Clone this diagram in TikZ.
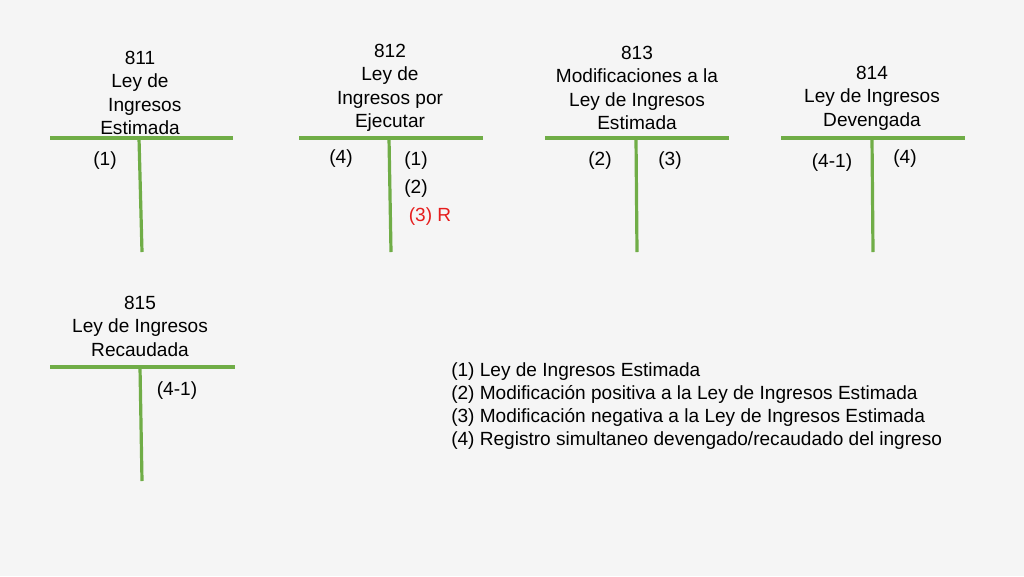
\documentclass[tikz,border=0pt]{standalone}
\usepackage{fontspec}
\setmainfont{Liberation Sans}
\definecolor{bg}{RGB}{245,245,245}
\definecolor{tgreen}{RGB}{112,173,71}
\definecolor{tred}{RGB}{230,30,30}
\begin{document}
\begin{tikzpicture}[x=0.75pt,y=-0.75pt,
  txt/.style={inner sep=0pt,align=center,font=\fontsize{14.3}{17.6}\selectfont},
  tline/.style={draw=tgreen,line width=2.4pt},
  red/.style={text=tred}]
\fill[bg] (0,0) rectangle (1024,576);
\useasboundingbox (0,0) rectangle (1024,576);
% 811
\node[txt] (t811) at (140,93) {811\\Ley de\\\hspace*{0.5em}Ingresos\\Estimada};
\coordinate (h811a) at (50,138); \coordinate (h811b) at (233,138);
\coordinate (v811a) at (139,138); \coordinate (v811b) at (142,252);
\draw[tline] (h811a) -- (h811b);
\draw[tline] (v811a) -- (v811b);
\node[txt] (a811) at (105,161) {(1)};
% 812
\node[txt] (t812) at (390,88) {812\\Ley de\\Ingresos por\\Ejecutar};
\coordinate (h812a) at (299,138); \coordinate (h812b) at (483,138);
\coordinate (v812a) at (389,138); \coordinate (v812b) at (391,252);
\draw[tline] (h812a) -- (h812b);
\draw[tline] (v812a) -- (v812b);
\node[txt] (a812) at (341,159) {(4)};
\node[txt] (b812) at (416,161) {(1)};
\node[txt] (c812) at (416,189) {(2)};
\node[txt,red] (d812) at (430,217) {(3) R};
% 813
\node[txt] (t813) at (637,88) {813\\Modificaciones a la\\Ley de Ingresos\\Estimada};
\coordinate (h813a) at (545,138); \coordinate (h813b) at (729,138);
\coordinate (v813a) at (636,138); \coordinate (v813b) at (637,252);
\draw[tline] (h813a) -- (h813b);
\draw[tline] (v813a) -- (v813b);
\node[txt] (a813) at (600,161) {(2)};
\node[txt] (b813) at (670,161) {(3)};
% 814
\node[txt] (t814) at (872,98) {814\\Ley de Ingresos\\Devengada};
\coordinate (h814a) at (781,138); \coordinate (h814b) at (965,138);
\coordinate (v814a) at (872,138); \coordinate (v814b) at (873,252);
\draw[tline] (h814a) -- (h814b);
\draw[tline] (v814a) -- (v814b);
\node[txt] (a814) at (832,163) {(4-1)};
\node[txt] (b814) at (905,159) {(4)};
% 815
\node[txt] (t815) at (140,326) {815\\Ley de Ingresos\\Recaudada};
\coordinate (h815a) at (50,367); \coordinate (h815b) at (235,367);
\coordinate (v815a) at (140,367); \coordinate (v815b) at (142,481);
\draw[tline] (h815a) -- (h815b);
\draw[tline] (v815a) -- (v815b);
\node[txt] (a815) at (177,391) {(4-1)};
% legend
\node[txt,align=left,anchor=west,font=\fontsize{14.3}{17.3}\selectfont] (leg) at (451,406) {(1) Ley de Ingresos Estimada\\(2) Modificación positiva a la Ley de Ingresos Estimada\\(3) Modificación negativa a la Ley de Ingresos Estimada\\(4) Registro simultaneo devengado/recaudado del ingreso};
\end{tikzpicture}
\end{document}
